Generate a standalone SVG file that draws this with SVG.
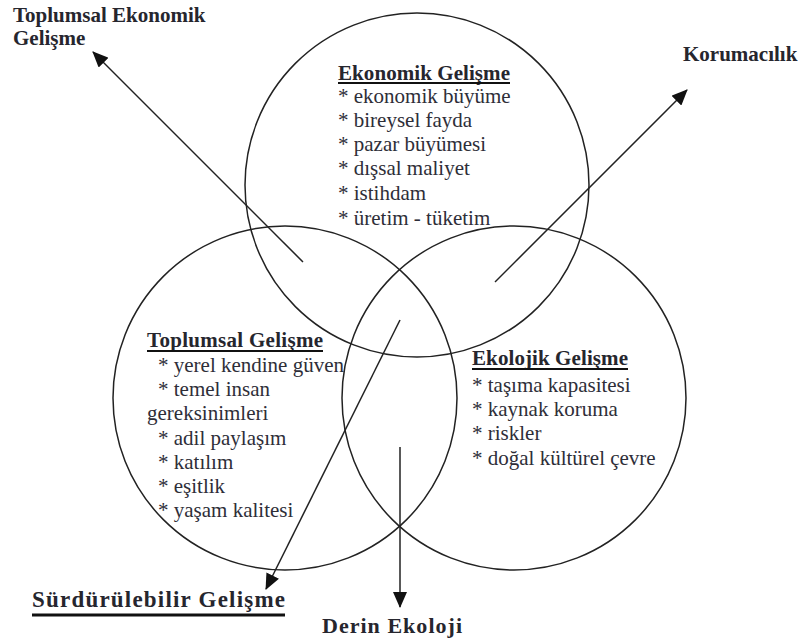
<svg xmlns="http://www.w3.org/2000/svg" width="799" height="644" viewBox="0 0 799 644" font-family="Liberation Serif, Tinos, Times New Roman, DejaVu Serif, serif">
  <style>
    .circle { fill: none; stroke: #222; stroke-width: 1.5; }
    .title { font-weight: bold; font-size: 21px; fill: #26262e; }
    .item { font-size: 21px; fill: #2e2e38; }
    .label { font-weight: bold; font-size: 21px; fill: #26262e; }
    .uline { stroke: #111; stroke-width: 2; }
    .conn { stroke: #222; stroke-width: 1.5; fill: none; marker-end: url(#arrow); }
  </style>
  <defs>
    <marker id="arrow" markerUnits="userSpaceOnUse" markerWidth="16" markerHeight="14" viewBox="0 0 16 14" refX="15" refY="7" orient="auto">
      <path d="M0,0 L16,7 L0,14 z" fill="#111"/>
    </marker>
  </defs>
  <rect width="799" height="644" fill="#ffffff"/>

  <g id="ekonomik" font-family="Liberation Serif, serif">
    <circle class="circle" cx="417" cy="185" r="172"/>
    <text class="title" x="338" y="80" textLength="172">Ekonomik Gelişme</text>
    <line class="uline" x1="338" y1="83" x2="510" y2="83"/>
    <text class="item" x="338" y="103">* ekonomik büyüme</text>
    <text class="item" x="338" y="127">* bireysel fayda</text>
    <text class="item" x="338" y="151">* pazar büyümesi</text>
    <text class="item" x="338" y="175">* dışsal maliyet</text>
    <text class="item" x="338" y="200">* istihdam</text>
    <text class="item" x="338" y="225">* üretim - tüketim</text>
  </g>

  <g id="toplumsal" font-family="Liberation Serif, serif">
    <circle class="circle" cx="285" cy="398" r="172"/>
    <text class="title" x="147" y="347" textLength="176">Toplumsal Gelişme</text>
    <line class="uline" x1="147" y1="351" x2="323" y2="351"/>
    <text class="item" x="158" y="372">* yerel kendine güven</text>
    <text class="item" x="158" y="396">* temel insan</text>
    <text class="item" x="147" y="420">gereksinimleri</text>
    <text class="item" x="158" y="445">* adil paylaşım</text>
    <text class="item" x="158" y="469">* katılım</text>
    <text class="item" x="158" y="493">* eşitlik</text>
    <text class="item" x="158" y="517">* yaşam kalitesi</text>
  </g>

  <g id="ekolojik" font-family="Liberation Serif, serif">
    <circle class="circle" cx="514" cy="398" r="172"/>
    <text class="title" x="472" y="365" textLength="156">Ekolojik Gelişme</text>
    <line class="uline" x1="472" y1="369" x2="628" y2="369"/>
    <text class="item" x="472" y="392">* taşıma kapasitesi</text>
    <text class="item" x="472" y="416">* kaynak koruma</text>
    <text class="item" x="472" y="440">* riskler</text>
    <text class="item" x="472" y="465">* doğal kültürel çevre</text>
  </g>

  <g id="toplumsal-ekonomik" font-family="Liberation Serif, serif">
    <text class="label" x="13" y="22">Toplumsal Ekonomik</text>
    <text class="label" x="13" y="45">Gelişme</text>
  </g>

  <g id="korumacilik" font-family="Liberation Serif, serif">
    <text class="label" x="683" y="61">Korumacılık</text>
  </g>

  <g id="surdurulebilir" font-family="Liberation Serif, serif">
    <text class="label" x="32" y="607" style="font-size:23px" textLength="253">Sürdürülebilir Gelişme</text>
    <line x1="32" y1="615" x2="285" y2="615" stroke="#111" stroke-width="3"/>
  </g>

  <g id="derin-ekoloji" font-family="Liberation Serif, serif">
    <text class="label" x="322" y="633" style="font-size:22px" textLength="140">Derin Ekoloji</text>
  </g>

  <g id="connectors">
    <line class="conn" x1="303" y1="262" x2="93" y2="52"/>
    <line class="conn" x1="495" y1="282" x2="687" y2="90"/>
    <line class="conn" x1="400" y1="320" x2="266" y2="589"/>
    <line class="conn" x1="400" y1="447" x2="400" y2="607"/>
  </g>
</svg>
